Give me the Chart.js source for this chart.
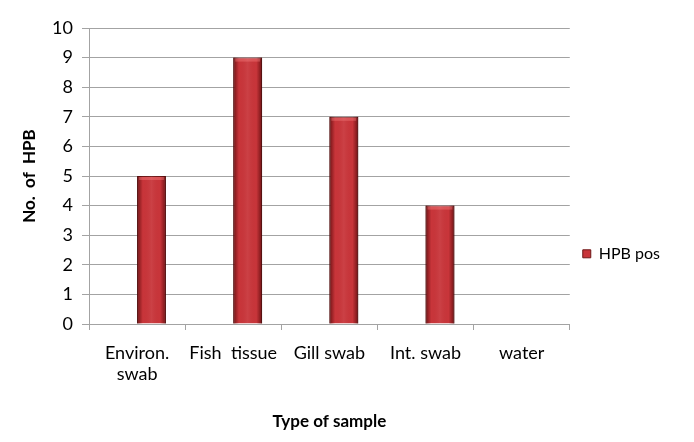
<!DOCTYPE html>
<html>
<head>
<meta charset="utf-8">
<script src="https://cdn.jsdelivr.net/npm/chart.js@4"></script>
<style>
  html, body { margin: 0; padding: 0; background: #fff; }
  #wrap { width: 694px; height: 442px; }
</style>
</head>
<body>
<div id="wrap"><canvas id="hpbChart" width="694" height="442"></canvas></div>
<script>
// Data
const categories = [['Environ.', 'swab'], 'Fish  tissue', 'Gill swab', 'Int. swab', 'water'];
const hpbPos = [5, 9, 7, 4, 0];
const spacer = [null, null, null, null, null]; // empty slot, bars sit right of centre
const yTicks = [0, 1, 2, 3, 4, 5, 6, 7, 8, 9, 10];

const FONT = 'Lato, "Open Sans", sans-serif';
const GRID = '#a3a3a3';

// shade the bars so they look like the rounded office bars
const barShade = {
  id: 'barShade',
  afterDatasetsDraw(chart) {
    const ctx = chart.ctx;
    chart.getDatasetMeta(1).data.forEach(bar => {
      const h = bar.base - bar.y;
      if (h <= 0) return;
      const left = bar.x - bar.width / 2;
      const g = ctx.createLinearGradient(left, 0, left + bar.width, 0);
      g.addColorStop(0, 'rgba(60,0,0,0.65)');
      g.addColorStop(0.2, 'rgba(70,0,0,0)');
      g.addColorStop(0.5, 'rgba(255,255,255,0.06)');
      g.addColorStop(0.8, 'rgba(70,0,0,0)');
      g.addColorStop(1, 'rgba(60,0,0,0.65)');
      ctx.save();
      ctx.fillStyle = g;
      ctx.fillRect(left, bar.y, bar.width, h);
      ctx.fillStyle = 'rgba(255,140,140,0.35)';
      ctx.fillRect(left + 2, bar.y + 1, bar.width - 4, 3);
      ctx.restore();
    });
  }
};

const ctx = document.getElementById('hpbChart').getContext('2d');
const hpbChart = new Chart(ctx, {
  type: 'bar',
  data: {
    labels: categories,
    datasets: [
      { label: '', data: spacer, backgroundColor: 'rgba(0,0,0,0)' },
      {
        label: 'HPB pos',
        data: hpbPos,
        backgroundColor: '#c8353a',
        borderColor: '#6e1818',
        borderWidth: 1
      }
    ]
  },
  plugins: [barShade],
  options: {
    responsive: false,
    animation: false,
    categoryPercentage: 0.6,
    barPercentage: 1,
    layout: { padding: { left: 0, top: 28, right: 24, bottom: 0 } },
    plugins: {
      tooltip: { enabled: false },
      legend: {
        position: 'right',
        align: 'start',
        title: { display: true, text: ' ', padding: { top: 0, bottom: 200 }, font: { size: 4 } },
        labels: {
          filter: item => item.text !== '',
          boxWidth: 8,
          boxHeight: 8,
          padding: 13,
          color: '#000',
          font: { family: FONT, size: 16 }
        }
      }
    },
    scales: {
      x: {
        grid: { display: true, offset: true, drawOnChartArea: false, drawTicks: true, tickLength: 6, color: GRID },
        border: { color: GRID },
        ticks: { color: '#000', padding: 12, font: { family: FONT, size: 18 }, maxRotation: 0 },
        title: { display: true, text: 'Type of sample', color: '#000', font: { family: FONT, size: 17, weight: 'bold' }, padding: { top: 10, bottom: 10 } },
        afterFit(axis) { axis.height = 118; }
      },
      y: {
        min: 0,
        max: 10,
        afterBuildTicks(axis) { axis.ticks = yTicks.map(v => ({ value: v })); },
        grid: { color: GRID, tickLength: 7 },
        border: { color: GRID },
        ticks: { color: '#000', padding: 9, font: { family: FONT, size: 18 } },
        title: { display: true, text: 'No.  of  HPB', color: '#000', font: { family: FONT, size: 17, weight: 'bold' }, padding: { top: 19, bottom: 0 } },
        afterFit(axis) { axis.width = 89; }
      }
    }
  }
});
</script>
</body>
</html>
